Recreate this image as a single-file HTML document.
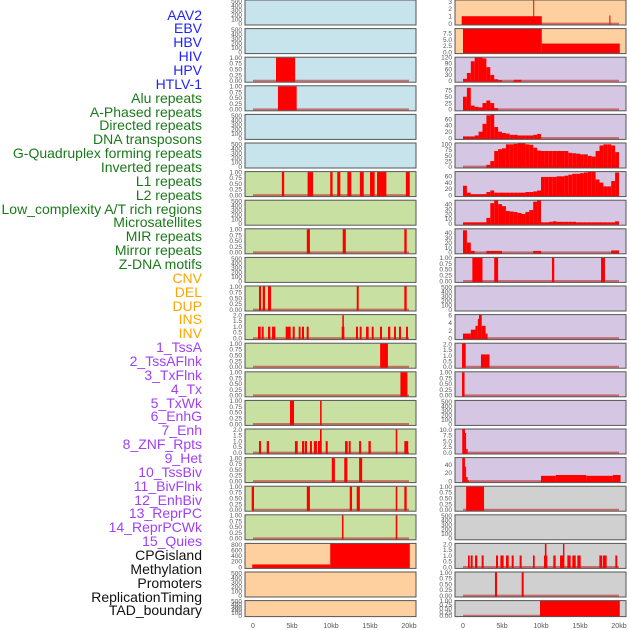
<!DOCTYPE html>
<html><head><meta charset="utf-8"><style>
html,body{margin:0;padding:0;background:#fff;}
#wrap{position:relative;width:630px;height:630px;overflow:hidden;}
.lab{position:absolute;right:428px;font-family:"Liberation Sans",sans-serif;font-size:14px;line-height:14px;white-space:nowrap;}
svg{position:absolute;left:0;top:0;}
</style></head><body>
<div id="wrap">
<div id="labels"></div>
<svg id="chart" width="630" height="630"></svg>
</div>
<script>
// ---- labels ----
const labelNames = ["AAV2","EBV","HBV","HIV","HPV","HTLV-1","Alu repeats","A-Phased repeats","Directed repeats","DNA transposons","G-Quadruplex forming repeats","Inverted repeats","L1 repeats","L2 repeats","Low_complexity A/T rich regions","Microsatellites","MIR repeats","Mirror repeats","Z-DNA motifs","CNV","DEL","DUP","INS","INV","1_TssA","2_TssAFlnk","3_TxFlnk","4_Tx","5_TxWk","6_EnhG","7_Enh","8_ZNF_Rpts","9_Het","10_TssBiv","11_BivFlnk","12_EnhBiv","13_ReprPC","14_ReprPCWk","15_Quies","CPGisland","Methylation","Promoters","ReplicationTiming","TAD_boundary"];
const labelGroups = [6,13,5,15,5];
const groupColors = ["#2222ff","#1a7a1a","#ffa500","#a040f8","#111111"];

// ---- left column data (segments: [startKb, endKb, value]) ----
const L2seg = [[2.95,5.4,1]];
const L3seg = [[3.2,5.6,1]];
const L6seg = [[3.7,4.0,1],[7.0,7.7,1],[9.9,10.2,1],[10.8,11.2,1],[12.1,12.6,1],[13.7,14.2,1],[15.0,15.6,1],[15.9,17.1,1],[19.6,20.1,1]];
const L8seg = [[6.9,7.3,1],[11.5,11.9,1],[19.4,19.7,1]];
const L10seg = [[0.77,1.03,1],[1.24,1.54,1],[1.92,2.31,1],[13.3,13.55,1],[19.4,19.7,1]];
const L11seg = [[0.64,0.99,1],[1.12,1.37,1],[1.92,2.22,1],[2.44,2.86,1],[4.19,4.83,1],[5.09,5.35,1],[5.86,6.1,1],[6.28,6.54,1],[6.88,7.14,1],[11.37,11.71,1],[11.45,11.65,2],[13.2,13.46,1],[13.68,13.93,1],[14.49,14.83,1],[15.22,15.47,1],[16.28,16.54,1],[17.31,17.6,1],[18.08,18.33,1],[18.72,18.97,1],[19.62,19.87,1]];
const L12seg = [[16.3,17.3,1]];
const L13seg = [[18.9,19.8,1]];
const L14seg = [[4.74,5.26,1],[8.6,8.8,1]];
const L15seg = [[0.77,1.03,1],[1.76,2.05,1],[5.38,5.73,1],[6.28,6.54,1],[6.62,6.92,1],[7.3,7.56,1],[7.8,8.2,1],[8.33,8.8,1],[8.59,8.8,2],[9.32,9.58,1],[11.8,12.14,1],[12.27,12.52,1],[13.6,13.86,1],[14.8,15.1,1],[18.3,18.5,2],[19.4,19.9,1]];
const L16seg = [[10.1,10.5,1],[11.7,12.1,1],[13.6,14.0,1]];
const L17seg = [[-0.17,0.13,1],[6.9,7.3,1],[12.4,12.7,1],[13.3,13.7,1],[18.3,18.5,1],[19.4,19.7,1]];
const L18seg = [[11.4,11.6,1],[18.3,18.5,1]];
const L19seg = [[-0.1,9.9,90],[9.9,20.1,830]];

// ---- right column data ----
const R0seg = [[-0.17,10.1,1],[9.0,9.1,3.2],[18.76,18.9,1.1]];
const R1seg = [[0,10.1,9.3],[10.1,20.1,3.4]];
// bins of 0.5kb starting at 0kb
const R2bins = [10,40,100,120,120,115,70,30,8,3,0,0,0,5,5];
const R3bins = [50,85,15,10,8,25,35,25,5];
const R4bins = [5,5,5,8,20,45,72,75,35,20,16,14,10,10,8,8,8,8,10,13];
const R5bins = [0,0,0,0,0,0,8,25,70,78,82,100,100,102,105,105,100,98,85,72,70,70,70,70,70,70,70,62,60,58,55,55,48,45,70,95,100,100,95,65];
const R6bins = [30,8,3,3,3,3,10,15,8,8,8,8,8,8,8,8,10,10,12,15,58,58,58,58,60,60,62,65,68,68,70,72,75,75,50,40,28,28,45,72];
const R7bins = [3,3,3,3,3,3,12,42,48,40,36,26,25,24,22,20,24,28,45,48,3,3,4,5,4,4,4,4,4,3,3,3,3,3,3,3,3,3,3,5];
const R8bins = [45,20,3,0,0,0,3,3,3,3,0,0,0,0,0,0,0,0,3,3,0,0,0,0,0,0,0,0,0,0,0,0,0,0,0,0,0,0,4,4];
const R9seg = [[1.2,2.5,1],[4.0,4.5,1],[11.4,11.7,1],[17.7,18.2,1]];
const R11seg = [[0,1,1.2],[1,1.6,2.2],[1.6,1.9,3.2],[1.9,2.05,5],[2.05,2.4,6],[2.4,2.9,3.2],[2.9,3.15,1.2]];
const R12seg = [[-0.13,0.35,2.1],[2.3,3.4,1.1]];
const R13seg = [[-0.13,0.2,1]];
const R15seg = [[-0.1,0.25,10],[0.25,0.4,8.5],[0.4,0.6,1.5]];
const R16seg = [[-0.1,0.25,57],[0.25,0.4,35],[0.4,0.6,10],[0.6,0.7,3],[10.0,11.9,13],[11.9,15.8,15],[15.8,19.2,13],[19.2,20.2,15]];
const R17seg = [[0.4,2.7,1]];
const R19seg = [[0.64,0.86,1],[0.98,1.24,1],[1.54,1.84,1],[2.39,2.65,1],[4.23,4.49,1],[4.79,5.21,1],[5.51,5.86,1],[6.24,6.5,1],[7.26,7.52,1],[8.97,9.19,1],[10.38,10.81,1],[10.5,10.7,2],[11.58,11.88,1],[12.44,12.95,1],[12.82,13.0,2],[13.38,13.8,1],[14.02,14.45,1],[14.66,15.09,1],[17.48,17.86,1],[17.95,18.42,1],[19.53,19.78,1]];
const R20seg = [[4.1,4.36,1],[7.52,7.78,1]];
const R21seg = [[9.87,20.1,1]];

// ---- tick label arrays ----
const tEmpty = ["0","100","200","300","400","500"];
const tUnit = ["0.00","0.25","0.50","0.75","1.00"];
const tTwo = ["0.0","0.5","1.0","1.5","2.0"];
const tCpg = ["0","200","400","600","800"];
const tR0 = ["0","1","2","3"];
const tR1 = ["0.0","2.5","5.0","7.5"];
const tR2 = ["0","30","60","90","120"];
const tR3 = ["0","25","50","75"];
const t60 = ["0","20","40","60"];
const tR5 = ["0","25","50","75","100"];
const t40 = ["0","10","20","30","40"];
const tR11 = ["0","2","4","6"];
const tR15 = ["0.0","2.5","5.0","7.5","10.0"];
const tR16 = ["0","20","40"];
const xTickLabels = ["0","5kb","10kb","15kb","20kb"];
const xTickValues = [0,5,10,15,20];

const BLUE="#c7e4ec",GREEN="#c8e1a2",PURPLE="#d5c7e3",ORANGE="#fecf9f",GRAY="#d0d0d0";
const E=null;
const leftPanels = [
 [BLUE,E,525,tEmpty],[BLUE,E,525,tEmpty],[BLUE,L2seg,1.02,tUnit],[BLUE,L3seg,1.02,tUnit],[BLUE,E,525,tEmpty],[BLUE,E,525,tEmpty],
 [GREEN,L6seg,1.02,tUnit],[GREEN,E,525,tEmpty],[GREEN,L8seg,1.02,tUnit],[GREEN,E,525,tEmpty],[GREEN,L10seg,1.02,tUnit],[GREEN,L11seg,2.05,tTwo],
 [GREEN,L12seg,1.02,tUnit],[GREEN,L13seg,1.02,tUnit],[GREEN,L14seg,1.02,tUnit],[GREEN,L15seg,2.05,tTwo],[GREEN,L16seg,1.02,tUnit],[GREEN,L17seg,1.02,tUnit],[GREEN,L18seg,1.02,tUnit],
 [ORANGE,L19seg,840,tCpg],[ORANGE,E,525,tEmpty],[ORANGE,E,525,tEmpty]];
const rightPanels = [
 [ORANGE,R0seg,3.2,tR0],[ORANGE,R1seg,9.3,tR1],[PURPLE,R2bins,121,tR2],[PURPLE,R3bins,93,tR3],[PURPLE,R4bins,75,t60],[PURPLE,R5bins,106,tR5],
 [PURPLE,R6bins,75,t60],[PURPLE,R7bins,48,t40],[PURPLE,R8bins,48,t40],[PURPLE,R9seg,1.02,tUnit],[PURPLE,E,525,tEmpty],[PURPLE,R11seg,6.1,tR11],
 [PURPLE,R12seg,2.1,tTwo],[PURPLE,R13seg,1.02,tUnit],[PURPLE,E,525,tEmpty],[PURPLE,R15seg,10.2,tR15],[PURPLE,R16seg,57,tR16],
 [GRAY,R17seg,1.02,tUnit],[GRAY,E,525,tEmpty],[GRAY,R19seg,2.05,tTwo],[GRAY,R20seg,1.02,tUnit],[GRAY,R21seg,1.02,tUnit]];

// ---- labels render ----
const labDiv=document.getElementById('labels');
let gi=0,cnt=0;
labelNames.forEach((n,i)=>{
  while(cnt>=labelGroups[gi]){gi++;cnt=0;}
  cnt++;
  const d=document.createElement('div');
  d.className='lab';
  
  
  d.style.top=(15+i*13.86-7.5)+'px';
  d.style.color=groupColors[gi];
  d.textContent=n;
  labDiv.appendChild(d);
});

// ---- panels render ----
const NS="http://www.w3.org/2000/svg";
const svg=document.getElementById('chart');
function mk(tag,attrs,parent){const e=document.createElementNS(NS,tag);for(const k in attrs)e.setAttribute(k,attrs[k]);(parent||svg).appendChild(e);return e;}
const colX=[245,455], panelW=171;
function xScale(col,kb){return colX[col]+8+kb*7.8;}
function drawPanel(col,row,p){
  const [fill,data,hi,ticks]=p;
  const top=row*28.6, h=(row===21?16:25);
  const lo=-0.06*hi;
  const y=v=>top+h*(hi-v)/(hi-lo);
  const g=mk('g',{});
  
  
  const bg=mk('rect',{x:colX[col],y:top,width:panelW,height:h,fill:fill},g);
  
  
  const cp='cp'+col+'_'+row;
  const clip=mk('clipPath',{id:cp},g);
  mk('rect',{x:colX[col],y:top,width:panelW,height:h},clip);
  const plot=mk('g',{'clip-path':'url(#'+cp+')'},g);
  if(data){
    const bl=mk('line',{x1:xScale(col,0),x2:xScale(col,20),y1:y(0),y2:y(0),stroke:'rgba(190,40,40,0.6)','stroke-width':2},plot);
    
    
    const segs = typeof data[0]==='number' ? data.map((v,i)=>[i*0.5,(i+1)*0.5,v]) : data;
    segs.forEach(s=>{
      if(s[2]<=0)return;
      const x1=xScale(col,s[0]),x2=xScale(col,s[1]);
      const r=mk('rect',{x:x1,y:y(s[2]),width:Math.max(1,x2-x1),height:Math.max(0,y(0)-y(s[2])+1),fill:'#ff0000'},plot);
      
      
    });
  }
  const br=mk('rect',{x:colX[col],y:top,width:panelW,height:h,fill:'none',stroke:'#555','stroke-width':1},g);
  
  
  const step = hi===525?100:null;
  ticks.forEach((t,i)=>{
    const v=parseFloat(t);
    const tx=mk('text',{x:colX[col]-3,y:y(v)+2.3,'text-anchor':'end','font-size':6.5,fill:'#555','font-family':'Liberation Sans, sans-serif'},g);
    
    
    tx.textContent=t;
  });
}
leftPanels.forEach((p,r)=>drawPanel(0,r,p));
rightPanels.forEach((p,r)=>drawPanel(1,r,p));
[0,1].forEach(col=>{
  xTickValues.forEach((v,i)=>{
    const t=mk('text',{x:xScale(col,v),y:628,'text-anchor':'middle','font-size':7,fill:'#555','font-family':'Liberation Sans, sans-serif'});
    
    
    t.textContent=xTickLabels[i];
  });
});
</script>
</body></html>
